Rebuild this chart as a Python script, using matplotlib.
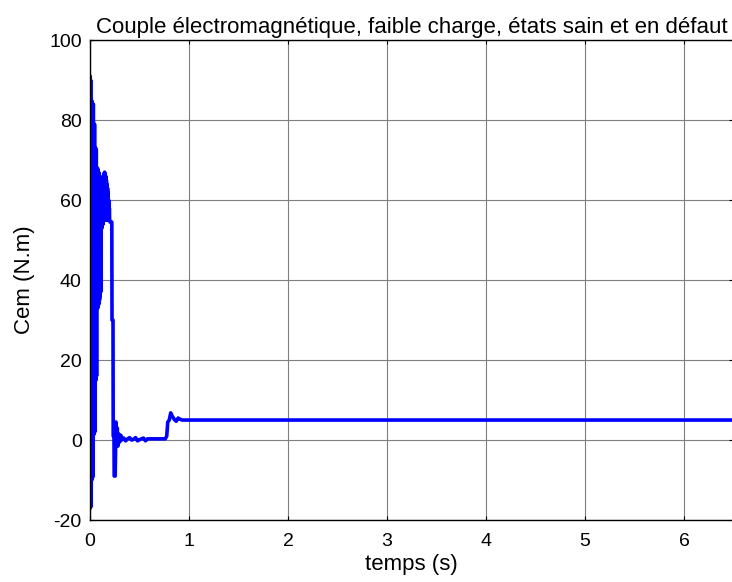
import matplotlib
matplotlib.use("Agg")
import matplotlib.pyplot as plt

plt.rcParams['font.family'] = ['Liberation Sans', 'DejaVu Sans']
plt.rcParams['axes.unicode_minus'] = False

# Start-up transient: alternating peaks (s, N.m)
t_osc = [0.000, 0.002, 0.004, 0.006, 0.008, 0.010, 0.012, 0.015, 0.018, 0.021,
         0.024, 0.027, 0.030, 0.033, 0.036, 0.039, 0.042, 0.045, 0.048, 0.051,
         0.054, 0.057, 0.060, 0.063, 0.066, 0.069, 0.072, 0.075, 0.078, 0.081,
         0.084, 0.087, 0.090, 0.093, 0.096, 0.099, 0.102, 0.105, 0.108, 0.111,
         0.114, 0.117, 0.120, 0.123, 0.126, 0.129, 0.132, 0.135, 0.138, 0.141,
         0.144, 0.147, 0.150, 0.153, 0.156, 0.159, 0.162, 0.165, 0.168, 0.171,
         0.174, 0.177, 0.180, 0.183, 0.186, 0.189, 0.192, 0.195, 0.198, 0.201]
c_osc = [0.0, 91.0, -17.0, 90.0, -16.5, 85.0, -10.0, 85.0, -10.0, 84.5,
         -9.5, 84.0, -9.0, 84.0, 1.5, 79.0, 1.5, 79.0, 2.0, 73.0,
         15.0, 73.0, 15.0, 72.5, 16.0, 68.0, 33.0, 68.0, 33.0, 67.5,
         34.0, 67.0, 34.0, 66.5, 35.0, 66.0, 36.0, 65.5, 37.0, 65.0,
         53.0, 65.0, 53.0, 64.5, 54.0, 65.0, 54.0, 66.0, 55.0, 66.5,
         55.0, 67.0, 55.0, 66.5, 55.5, 66.0, 56.0, 65.0, 55.0, 64.0,
         55.0, 63.0, 55.0, 62.0, 55.0, 60.0, 55.0, 58.0, 55.0, 54.5]

# Settling after start-up, load step and steady state
t_set = [0.205, 0.220, 0.222, 0.232, 0.234, 0.242, 0.244, 0.254, 0.262, 0.268,
         0.275, 0.282, 0.290, 0.300, 0.310, 0.320, 0.340, 0.360, 0.380, 0.400,
         0.420, 0.440, 0.460, 0.480, 0.500, 0.520, 0.540, 0.560, 0.580, 0.760,
         0.775, 0.785, 0.800, 0.815, 0.830, 0.850, 0.870, 0.890, 0.910, 0.930,
         6.500]
c_set = [54.5, 54.5, 30.0, 30.0, 1.0, 1.0, -9.0, -9.0, 4.5, -1.5,
         3.0, -1.5, 1.5, -0.5, 1.2, 0.0, 0.5, -0.2, 0.3, 0.6,
         0.0, 0.2, 0.6, -0.2, 0.1, 0.3, 0.5, -0.2, 0.3, 0.3,
         1.0, 4.5, 5.0, 6.8, 6.0, 5.2, 4.7, 5.5, 5.2, 5.0,
         5.0]

t = t_osc + t_set
cem = c_osc + c_set

x_ticks = [0, 1, 2, 3, 4, 5, 6]
y_ticks = [-20, 0, 20, 40, 60, 80, 100]

fig = plt.figure(figsize=(7.32, 5.82), dpi=100)
ax = fig.add_axes([0.123, 0.1065, 0.879, 0.8245])
ax.plot(t, cem, color='#0000ff', linewidth=2.6)
ax.set_xlim(0, 6.5)
ax.set_ylim(-20, 100)
ax.set_xticks(x_ticks)
ax.set_yticks(y_ticks)
ax.grid(True, color='#7f7f7f', linewidth=0.8)
ax.tick_params(direction='in', top=True, right=True, labelsize=14, length=3)
ax.tick_params(axis='x', pad=9)
ax.tick_params(axis='y', pad=6)
for s in ax.spines.values():
    s.set_linewidth(1.0)
ax.set_title('Couple électromagnétique, faible charge, états sain et en défaut',
             fontsize=16, pad=5)
ax.set_xlabel('temps (s)', fontsize=16, labelpad=3)
ax.set_ylabel('Cem (N.m)', fontsize=16, labelpad=10)
fig.savefig('out.png', dpi=100)
